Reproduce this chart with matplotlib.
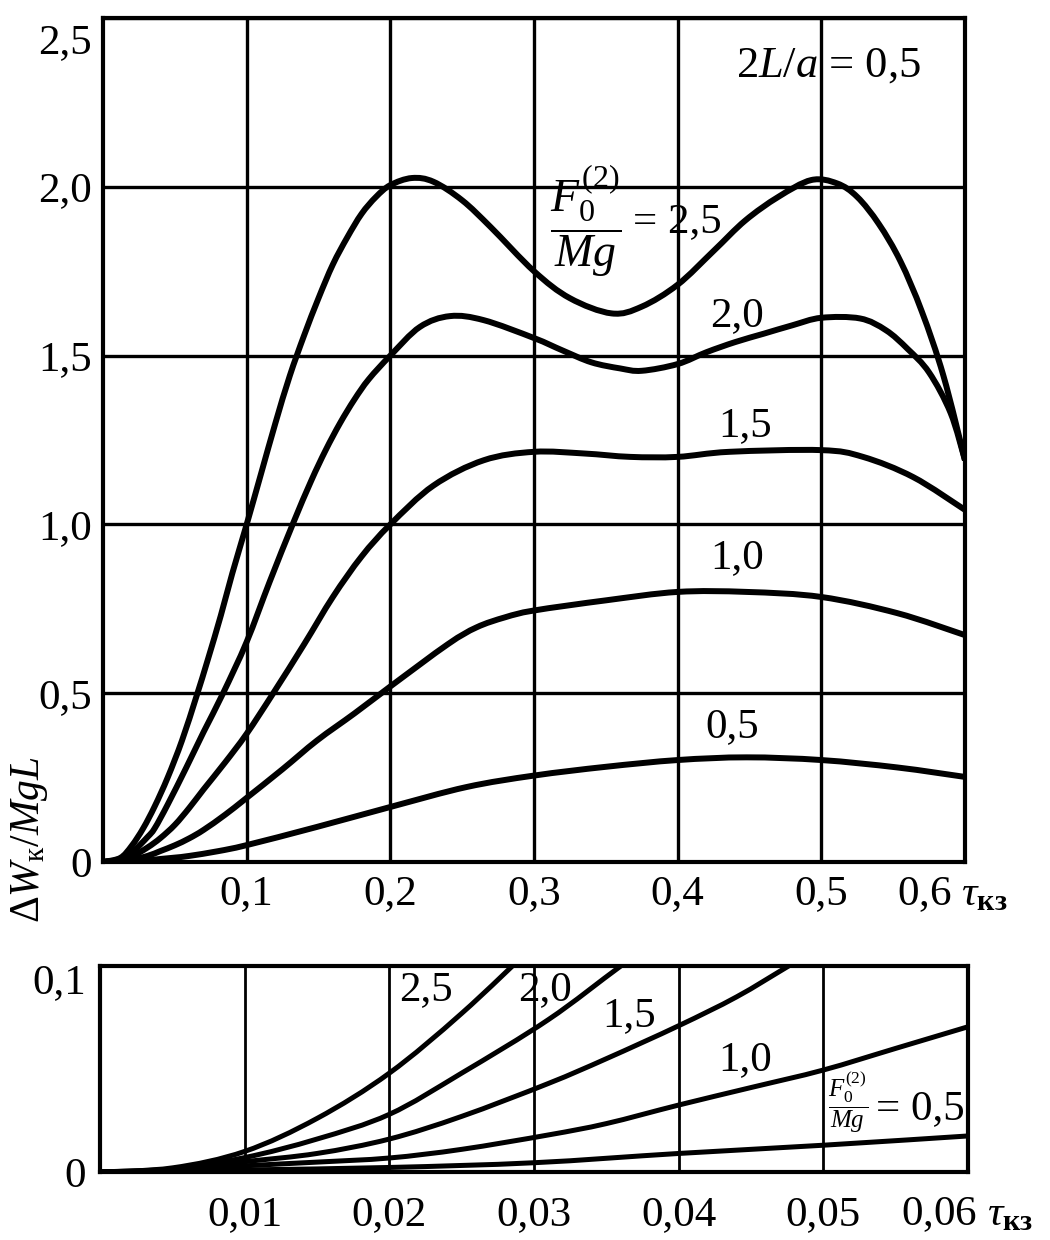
import numpy as np
import matplotlib.pyplot as plt
from matplotlib.path import Path
from matplotlib.patches import PathPatch
from matplotlib.transforms import ScaledTranslation

plt.rcParams['font.family'] = ['Liberation Serif', 'DejaVu Serif']
plt.rcParams['mathtext.fontset'] = 'custom'
plt.rcParams['mathtext.rm'] = 'Liberation Serif'
plt.rcParams['mathtext.it'] = 'Liberation Serif:italic'
plt.rcParams['mathtext.bf'] = 'Liberation Serif:bold'

# --- верхний график: 0 < tau < 0,6 ---
x_25 = [0.0, 0.012, 0.02, 0.028, 0.036, 0.045, 0.055, 0.065, 0.073, 0.082, 0.09, 0.1,
        0.11, 0.12, 0.13, 0.14, 0.15, 0.16, 0.17, 0.18, 0.19, 0.2, 0.215, 0.23, 0.25,
        0.27, 0.3, 0.325, 0.354, 0.375, 0.4, 0.425, 0.447, 0.47, 0.493, 0.511, 0.525,
        0.54, 0.555, 0.57, 0.585, 0.6]
y_25 = [0, 0.012, 0.048, 0.1, 0.165, 0.25, 0.36, 0.49, 0.6, 0.73, 0.855, 1.0,
        1.15, 1.3, 1.44, 1.56, 1.67, 1.77, 1.85, 1.92, 1.97, 2.005, 2.026, 2.015, 1.96,
        1.88, 1.75, 1.67, 1.625, 1.645, 1.71, 1.81, 1.9, 1.97, 2.02, 2.01, 1.97,
        1.89, 1.78, 1.63, 1.44, 1.19]

x_20 = [0.0, 0.01, 0.02, 0.031, 0.036, 0.045, 0.058, 0.07, 0.0836, 0.1, 0.116, 0.132,
        0.145, 0.155, 0.165, 0.175, 0.185, 0.2, 0.2206, 0.2416, 0.265, 0.3, 0.32, 0.34,
        0.36, 0.375, 0.4, 0.42, 0.44, 0.46, 0.48, 0.5, 0.527, 0.545, 0.56, 0.575, 0.59, 0.6]
y_20 = [0, 0.007, 0.028, 0.074, 0.1, 0.17, 0.28, 0.385, 0.5, 0.652, 0.83, 1.0,
        1.13, 1.22, 1.30, 1.37, 1.43, 1.5, 1.585, 1.617, 1.605, 1.552, 1.515, 1.48,
        1.462, 1.455, 1.475, 1.51, 1.54, 1.565, 1.59, 1.612, 1.61, 1.575, 1.52, 1.45, 1.33, 1.19]

x_15 = [0.0, 0.01, 0.02, 0.031, 0.04, 0.05, 0.06, 0.07, 0.085, 0.1, 0.1185, 0.14,
        0.16, 0.18, 0.2, 0.23, 0.265, 0.3, 0.335, 0.367, 0.4, 0.436, 0.5, 0.529, 0.564, 0.6]
y_15 = [0, 0.005, 0.016, 0.043, 0.071, 0.11, 0.16, 0.215, 0.295, 0.38, 0.5, 0.645,
        0.785, 0.905, 1.0, 1.115, 1.19, 1.215, 1.21, 1.2, 1.2, 1.215, 1.22, 1.2, 1.14, 1.043]

x_10 = [0.0, 0.01, 0.02, 0.031, 0.04, 0.05, 0.06, 0.07, 0.085, 0.1, 0.125, 0.149,
        0.175, 0.2, 0.24, 0.26, 0.28, 0.3, 0.35, 0.4, 0.448, 0.5, 0.553, 0.6]
y_10 = [0, 0.003, 0.0068, 0.018, 0.0325, 0.0495, 0.07, 0.095, 0.14, 0.19, 0.275, 0.36,
        0.44, 0.52, 0.645, 0.695, 0.725, 0.745, 0.775, 0.8, 0.8, 0.785, 0.737, 0.672]

x_05 = [0.0, 0.01, 0.02, 0.03, 0.04, 0.05, 0.06, 0.08, 0.1, 0.149, 0.2, 0.253,
        0.3, 0.35, 0.4, 0.448, 0.5, 0.553, 0.6]
y_05 = [0, 0.001, 0.0022, 0.0045, 0.009, 0.013, 0.018, 0.032, 0.05, 0.104, 0.163, 0.222,
        0.256, 0.282, 0.302, 0.31, 0.302, 0.28, 0.252]

top_xticks = [0.1, 0.2, 0.3, 0.4, 0.5]
top_xlabels = ['0,1', '0,2', '0,3', '0,4', '0,5']
top_yticks = [0, 0.5, 1.0, 1.5, 2.0, 2.5]
top_ylabels = ['0', '0,5', '1,0', '1,5', '2,0', '2,5']

# --- нижний график: начальный участок 0 < tau < 0,06 ---
xs_25 = [0.0, 0.005, 0.01, 0.015, 0.02, 0.025, 0.03]
ys_25 = [0, 0.002, 0.01, 0.026, 0.048, 0.077, 0.11]
xs_20 = [0.0, 0.005, 0.01, 0.015, 0.02, 0.025, 0.031, 0.036, 0.04]
ys_20 = [0, 0.0015, 0.007, 0.016, 0.028, 0.048, 0.074, 0.1, 0.12]
xs_15 = [0.0, 0.005, 0.01, 0.015, 0.02, 0.025, 0.031, 0.035, 0.04, 0.044, 0.0476, 0.05]
ys_15 = [0, 0.001, 0.005, 0.009, 0.016, 0.027, 0.043, 0.055, 0.071, 0.085, 0.1, 0.11]
xs_10 = [0.0, 0.005, 0.01, 0.015, 0.02, 0.025, 0.031, 0.035, 0.04, 0.045, 0.05, 0.055, 0.06]
ys_10 = [0, 0.0008, 0.003, 0.0048, 0.0068, 0.011, 0.018, 0.0235, 0.0325, 0.041, 0.0495, 0.06, 0.0705]
xs_05 = [0.0, 0.01, 0.02, 0.03, 0.04, 0.05, 0.06]
ys_05 = [0, 0.001, 0.0022, 0.0045, 0.009, 0.013, 0.0175]

bot_xticks = [0.01, 0.02, 0.03, 0.04, 0.05]
bot_xlabels = ['0,01', '0,02', '0,03', '0,04', '0,05']
bot_yticks = [0, 0.1]
bot_ylabels = ['0', '0,1']

W, H = 1050, 1240
fig = plt.figure(figsize=(W / 100, H / 100), dpi=100)
ax1 = fig.add_axes([103 / W, 1 - 862 / H, 862 / W, 844 / H])
ax2 = fig.add_axes([100 / W, 1 - 1172 / H, 868 / W, 206 / H])

FS = 31


def shift(label, dx_px, dy_px):
    label.set_transform(label.get_transform() +
                        ScaledTranslation(dx_px / 100, dy_px / 100, fig.dpi_scale_trans))


def smooth_curve(ax, xs, ys, lw):
    # плавная кривая Безье через точки (Catmull-Rom)
    p = np.column_stack([xs, ys]).astype(float)
    verts = [p[0]]
    codes = [Path.MOVETO]
    n = len(p)
    for i in range(n - 1):
        p0 = p[i - 1] if i > 0 else p[i]
        p1, p2 = p[i], p[i + 1]
        p3 = p[i + 2] if i + 2 < n else p[i + 1]
        verts += [p1 + (p2 - p0) / 6, p2 - (p3 - p1) / 6, p2]
        codes += [Path.CURVE4] * 3
    ax.add_patch(PathPatch(Path(verts, codes), fill=False, ec='black', lw=lw,
                           capstyle='butt', joinstyle='round', zorder=3))


# верхний
ax1.set_xlim(0, 0.6)
ax1.set_ylim(0, 2.5)
ax1.set_xticks(top_xticks)
ax1.set_xticklabels(top_xlabels)
ax1.set_yticks(top_yticks)
ax1.set_yticklabels(top_ylabels)
ax1.tick_params(length=0, labelsize=FS)
ax1.tick_params(axis='x', pad=9)
ax1.tick_params(axis='y', pad=8)
ax1.grid(True, color='black', lw=2.4)
ax1.set_axisbelow(True)
for s in ax1.spines.values():
    s.set_linewidth(3)
shift(ax1.get_yticklabels()[-1], 0, -20)

for xx, yy in [(x_25, y_25), (x_20, y_20), (x_15, y_15), (x_10, y_10), (x_05, y_05)]:
    smooth_curve(ax1, xx, yy, 4.3)

ax1.text(0.5053, 2.36, r'$\mathit{2L/a}$ = 0,5', fontsize=32, ha='center', va='center')
ax1.text(0.3362, 1.90, r'$\dfrac{F_0^{(2)}}{Mg}$', fontsize=33, ha='center', va='center')
ax1.text(0.369, 1.896, '= 2,5', fontsize=FS, ha='left', va='center')
ax1.text(0.4413, 1.617, '2,0', fontsize=FS, ha='center', va='center')
ax1.text(0.447, 1.291, '1,5', fontsize=FS, ha='center', va='center')
ax1.text(0.4413, 0.900, '1,0', fontsize=FS, ha='center', va='center')
ax1.text(0.4378, 0.400, '0,5', fontsize=FS, ha='center', va='center')
ax1.annotate(r'0,6 $\tau_{\mathbf{кз}}$', xy=(1, 0), xycoords='axes fraction',
             xytext=(-68 * 0.72, -13 * 0.72), textcoords='offset points',
             ha='left', va='top', fontsize=FS)

# нижний
ax2.set_xlim(0, 0.06)
ax2.set_ylim(0, 0.1)
ax2.set_xticks(bot_xticks)
ax2.set_xticklabels(bot_xlabels)
ax2.set_yticks(bot_yticks)
ax2.set_yticklabels(bot_ylabels)
ax2.tick_params(length=0, labelsize=FS)
ax2.tick_params(axis='x', pad=17)
ax2.tick_params(axis='y', pad=10)
ax2.grid(True, axis='x', color='black', lw=2.0)
ax2.set_axisbelow(True)
for s in ax2.spines.values():
    s.set_linewidth(3)
shift(ax2.get_yticklabels()[-1], 0, -12)

for xx, yy in [(xs_25, ys_25), (xs_20, ys_20), (xs_15, ys_15), (xs_10, ys_10), (xs_05, ys_05)]:
    smooth_curve(ax2, xx, yy, 3.6)

ax2.text(0.02253, 0.0883, '2,5', fontsize=FS, ha='center', va='center')
ax2.text(0.03076, 0.0883, '2,0', fontsize=FS, ha='center', va='center')
ax2.text(0.03657, 0.0757, '1,5', fontsize=FS, ha='center', va='center')
ax2.text(0.04459, 0.0544, '1,0', fontsize=FS, ha='center', va='center')
ax2.text(0.0517, 0.034, r'$\dfrac{F_0^{(2)}}{Mg}$', fontsize=18, ha='center', va='center')
ax2.text(0.05364, 0.0306, '= 0,5', fontsize=FS, ha='left', va='center')
ax2.annotate(r'0,06 $\tau_{\mathbf{кз}}$', xy=(1, 0), xycoords='axes fraction',
             xytext=(-67 * 0.72, -23 * 0.72), textcoords='offset points',
             ha='left', va='top', fontsize=FS)

fig.text(30 / W, 1 - 840 / H, r'$\Delta W_{\mathrm{к}}/MgL$', fontsize=30,
         rotation=90, ha='center', va='center')

fig.savefig('out.png', dpi=100)
